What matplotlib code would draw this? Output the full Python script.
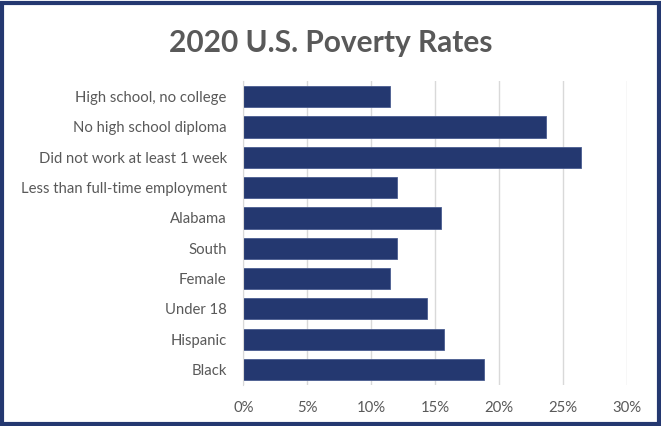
import matplotlib.pyplot as plt
import numpy as np
from matplotlib.patches import Rectangle
from matplotlib.ticker import FuncFormatter

plt.rcParams['font.family'] = ['Lato', 'DejaVu Sans']

categories = [
    'High school, no college',
    'No high school diploma',
    'Did not work at least 1 week',
    'Less than full-time employment',
    'Alabama',
    'South',
    'Female',
    'Under 18',
    'Hispanic',
    'Black',
]
rates = [11.5, 23.7, 26.4, 12.0, 15.5, 12.0, 11.5, 14.4, 15.7, 18.8]
xticks = [0, 5, 10, 15, 20, 25, 30]

navy = '#243870'
text_gray = '#595959'

fig = plt.figure(figsize=(6.61, 4.26), dpi=100)
ax = fig.add_axes([243.3 / 661, 1 - 384.6 / 426, (626.7 - 243.3) / 661, (384.6 - 81.5) / 426])

y = np.arange(len(categories))
ax.barh(y, rates, height=0.7, color=navy, edgecolor='#4a5c90', linewidth=0.6, zorder=3)
ax.set_ylim(len(categories) - 0.5, -0.5)
ax.set_xlim(0, 30)

ax.set_yticks(y)
ax.set_yticklabels(categories, fontsize=10.7, color=text_gray)
ax.set_xticks(xticks)
ax.xaxis.set_major_formatter(FuncFormatter(lambda v, _: f'{v:.0f}%'))
ax.tick_params(axis='x', labelsize=10.7, labelcolor=text_gray, length=0, pad=12)
ax.tick_params(axis='y', length=0, pad=12)

ax.grid(axis='x', color='#d9d9d9', linewidth=1, zorder=0)
for side in ['top', 'right', 'bottom']:
    ax.spines[side].set_visible(False)
ax.spines['left'].set_color('#d9d9d9')
ax.spines['left'].set_zorder(4)

fig.text(0.5, 1 - 43 / 426, '2020 U.S. Poverty Rates', ha='center', va='center',
         fontsize=21.5, fontweight='bold', color=text_gray)

# outer frame
fig.patches.append(Rectangle((0.003, 0.004), 0.994, 0.988, transform=fig.transFigure,
                             fill=False, edgecolor=navy, linewidth=3))

fig.savefig('out.png', dpi=100)
